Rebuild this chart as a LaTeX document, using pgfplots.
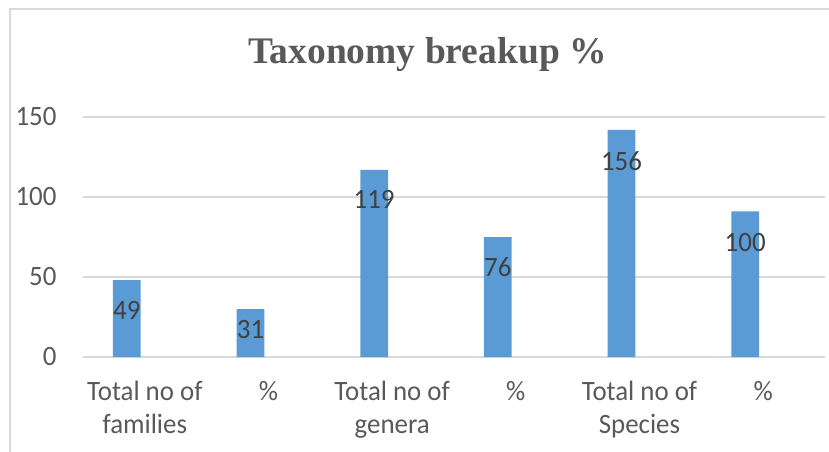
\documentclass[border=0pt]{standalone}
\usepackage{fontspec}
\setmainfont{Carlito}[FakeStretch=0.96]
\newfontfamily\titlefont{Liberation Serif}
\usepackage{pgfplots}
\pgfplotsset{compat=1.18}
\definecolor{barblue}{HTML}{5B9BD5}
\definecolor{gridgray}{HTML}{D9D9D9}
\definecolor{ticktext}{HTML}{595959}
\definecolor{labeltext}{HTML}{404040}
\begin{document}
\begin{tikzpicture}[x=1pt,y=1pt]
\useasboundingbox (0,0) rectangle (829,451);
\draw[gridgray, line width=1.5pt] (10,-5) -- (10,442) -- (840,442);
\node[anchor=base, text=ticktext, font=\titlefont\bfseries\fontsize{37.5}{40}\selectfont] at (427.5,388) {Taxonomy breakup \%};
\begin{axis}[
  at={(83pt,94pt)}, anchor=south west,
  scale only axis, width=742pt, height=240pt,
  xmin=-0.5, xmax=5.5, ymin=0, ymax=150,
  axis line style={draw=none},
  major tick length=0pt,
  ytick={0,50,100,150},
  ymajorgrids, grid style={gridgray, line width=1.5pt},
  xtick={0,1,2,3,4,5},
  xticklabels={{Total no of\\families},\%,{Total no of\\genera},\%,{Total no of\\Species},\%},
  xticklabel style={align=center, text=ticktext, font=\fontsize{28}{33}\selectfont, anchor=north, yshift=-21pt},
  yticklabel style={text=ticktext, font=\fontsize{28}{33}\selectfont, anchor=east, xshift=-23pt},
  /pgf/number format/assume math mode=true,
  clip=false,
]
\addplot[ybar, bar width=27.7pt, bar shift=-18pt, fill=barblue, draw=none]
  coordinates {(0,48) (1,30) (2,117) (3,75) (4,142) (5,91)};
\addplot[only marks, mark=none, draw=none,
  nodes near coords, point meta=explicit symbolic,
  every node near coord/.style={anchor=center, text=labeltext, font=\fontsize{28}{33}\selectfont, inner sep=0pt}]
  table[meta=lab] {
x y lab
-0.1455 29.1 49
0.8545 17.3 31
1.8545 98.3 119
2.8545 55.9 76
3.8545 122.7 156
4.8545 71.5 100
};
\end{axis}
\end{tikzpicture}
\end{document}
